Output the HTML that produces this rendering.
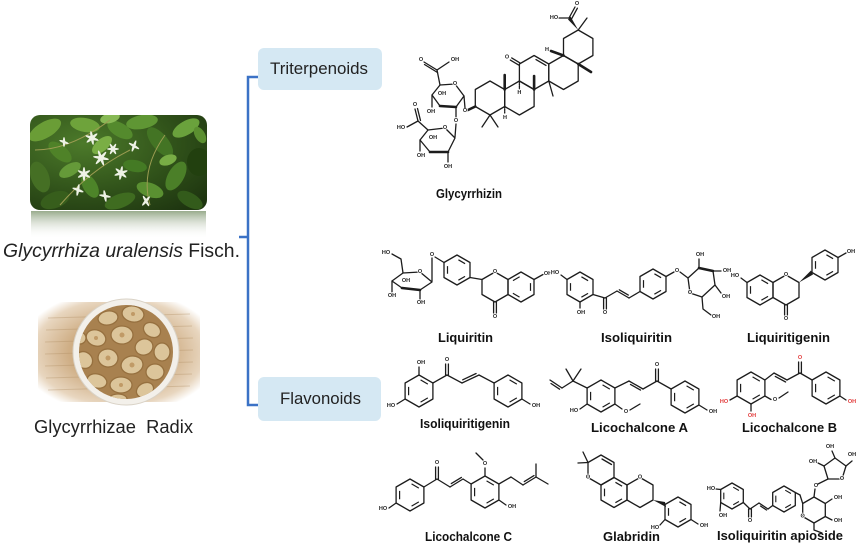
<!DOCTYPE html>
<html><head><meta charset="utf-8">
<style>
html,body{margin:0;padding:0;background:#fff;}
body{width:858px;height:548px;overflow:hidden;}
svg{display:block;}
.b{fill:none;stroke:#1c1c1c;stroke-width:1.3;stroke-linejoin:round;stroke-linecap:round}
.k{stroke:#1c1c1c;stroke-width:2.6;stroke-linecap:round}
.i15{fill:none;stroke:#1c1c1c;stroke-width:1.2;stroke-dasharray:7.7 14.3;stroke-dashoffset:-1.65}
.i16{fill:none;stroke:#1c1c1c;stroke-width:1.2;stroke-dasharray:8.4 15.6;stroke-dashoffset:-1.8}
.i13{fill:none;stroke:#1c1c1c;stroke-width:1.1;stroke-dasharray:6.6 12.4;stroke-dashoffset:-1.4}
.i15b{fill:none;stroke:#1c1c1c;stroke-width:1.2;stroke-dasharray:7.7 14.3;stroke-dashoffset:-12.65}
.a{font-family:"Liberation Sans",sans-serif;font-weight:bold;font-size:5.5px;fill:#222;stroke:#fff;stroke-width:1.6px;paint-order:stroke;text-anchor:middle;dominant-baseline:central}
.ar{fill:#e23a3a}
.lb{font-family:"Liberation Sans",sans-serif;font-weight:bold;font-size:12.5px;fill:#111}
.big{font-family:"Liberation Sans",sans-serif;fill:#222}
</style></head>
<body>
<svg width="858" height="548" viewBox="0 0 858 548" xmlns="http://www.w3.org/2000/svg">
<defs>
 <clipPath id="pc"><rect x="30" y="115" width="177" height="95" rx="10"/></clipPath>
 <clipPath id="bc"><circle cx="126" cy="352" r="47"/></clipPath>
 <linearGradient id="rf" x1="0" y1="0" x2="0" y2="1"><stop offset="0" stop-color="#7f9670" stop-opacity="0.8"/><stop offset="1" stop-color="#ffffff" stop-opacity="0"/></linearGradient>
 <radialGradient id="mat" cx="0.5" cy="0.5" r="0.62"><stop offset="0.5" stop-color="#cfae85"/><stop offset="0.85" stop-color="#e8d6bf"/><stop offset="1" stop-color="#ffffff"/></radialGradient>
 <radialGradient id="pl" cx="0.3" cy="0.3" r="0.9"><stop offset="0" stop-color="#4c7a2a"/><stop offset="0.6" stop-color="#2f5019"/><stop offset="1" stop-color="#1e3510"/></radialGradient>
</defs>

<!-- Plant photo -->
<g clip-path="url(#pc)">
 <rect x="30" y="115" width="177" height="95" fill="url(#pl)"/>
 <ellipse cx="45" cy="130" rx="18" ry="8" transform="rotate(-30 45 130)" fill="#6a9d36"/>
 <ellipse cx="60" cy="152" rx="14" ry="7" transform="rotate(40 60 152)" fill="#4f8228"/>
 <ellipse cx="40" cy="177" rx="16" ry="9" transform="rotate(70 40 177)" fill="#456f24"/>
 <ellipse cx="55" cy="200" rx="15" ry="8" transform="rotate(-20 55 200)" fill="#375e1c"/>
 <ellipse cx="85" cy="125" rx="15" ry="7" transform="rotate(10 85 125)" fill="#6ea33b"/>
 <ellipse cx="102" cy="145" rx="12" ry="6" transform="rotate(-40 102 145)" fill="#7aae45"/>
 <ellipse cx="120" cy="130" rx="14" ry="7" transform="rotate(30 120 130)" fill="#548a2d"/>
 <ellipse cx="142" cy="122" rx="16" ry="7" transform="rotate(-10 142 122)" fill="#5f9634"/>
 <ellipse cx="160" cy="142" rx="18" ry="8" transform="rotate(50 160 142)" fill="#437424"/>
 <ellipse cx="186" cy="128" rx="15" ry="7" transform="rotate(-30 186 128)" fill="#6aa23c"/>
 <ellipse cx="199" cy="162" rx="12" ry="14" fill="#22400f"/>
 <ellipse cx="176" cy="176" rx="16" ry="8" transform="rotate(-60 176 176)" fill="#4b7f28"/>
 <ellipse cx="150" cy="190" rx="14" ry="7" transform="rotate(20 150 190)" fill="#5a9031"/>
 <ellipse cx="120" cy="201" rx="16" ry="7" transform="rotate(-20 120 201)" fill="#3f6c20"/>
 <ellipse cx="90" cy="186" rx="13" ry="7" transform="rotate(60 90 186)" fill="#4d8429"/>
 <ellipse cx="70" cy="170" rx="12" ry="6" transform="rotate(-30 70 170)" fill="#659a39"/>
 <ellipse cx="190" cy="200" rx="14" ry="7" transform="rotate(30 190 200)" fill="#335b1b"/>
 <ellipse cx="135" cy="166" rx="12" ry="6" transform="rotate(10 135 166)" fill="#447a24"/>
 <ellipse cx="168" cy="160" rx="9" ry="5" transform="rotate(-20 168 160)" fill="#78ad45"/>
 <ellipse cx="110" cy="118" rx="10" ry="5" transform="rotate(-15 110 118)" fill="#87b955"/>
 <ellipse cx="200" cy="135" rx="9" ry="5" transform="rotate(60 200 135)" fill="#5b8f30"/>
 <path d="M60,205 Q90,170 130,150 M150,205 Q140,170 165,135 M35,150 Q70,150 110,120" stroke="#9c9c52" stroke-width="1" fill="none"/>
 <g fill="#eef2e6">
  <g transform="translate(92,138)"><ellipse rx="7" ry="1.4" transform="rotate(20)"/><ellipse rx="7" ry="1.4" transform="rotate(80)"/><ellipse rx="7" ry="1.4" transform="rotate(140)"/></g>
  <g transform="translate(101,158)"><ellipse rx="8" ry="1.5" transform="rotate(10)"/><ellipse rx="8" ry="1.5" transform="rotate(70)"/><ellipse rx="8" ry="1.5" transform="rotate(130)"/></g>
  <g transform="translate(84,174)"><ellipse rx="7" ry="1.4" transform="rotate(30)"/><ellipse rx="7" ry="1.4" transform="rotate(90)"/><ellipse rx="7" ry="1.4" transform="rotate(150)"/></g>
  <g transform="translate(113,149)"><ellipse rx="6" ry="1.3" transform="rotate(0)"/><ellipse rx="6" ry="1.3" transform="rotate(60)"/><ellipse rx="6" ry="1.3" transform="rotate(120)"/></g>
  <g transform="translate(78,190)"><ellipse rx="6" ry="1.3" transform="rotate(20)"/><ellipse rx="6" ry="1.3" transform="rotate(100)"/></g>
  <g transform="translate(121,173)"><ellipse rx="7" ry="1.4" transform="rotate(40)"/><ellipse rx="7" ry="1.4" transform="rotate(100)"/><ellipse rx="7" ry="1.4" transform="rotate(160)"/></g>
  <g transform="translate(105,196)"><ellipse rx="6" ry="1.3" transform="rotate(10)"/><ellipse rx="6" ry="1.3" transform="rotate(80)"/></g>
  <g transform="translate(134,146)"><ellipse rx="6" ry="1.3" transform="rotate(30)"/><ellipse rx="6" ry="1.3" transform="rotate(110)"/></g>
  <g transform="translate(146,201)"><ellipse rx="6" ry="1.3" transform="rotate(60)"/><ellipse rx="6" ry="1.3" transform="rotate(130)"/></g>
  <g transform="translate(64,142)"><ellipse rx="5" ry="1.2" transform="rotate(20)"/><ellipse rx="5" ry="1.2" transform="rotate(90)"/></g>
 </g>
</g>
<rect x="31" y="211" width="175" height="28" fill="url(#rf)"/>

<!-- Root photo -->
<rect x="38" y="302" width="162" height="100" fill="url(#mat)"/>
<g stroke="#b08d62" stroke-opacity="0.35" stroke-width="1">
 <line x1="48" y1="318" x2="190" y2="314"/><line x1="46" y1="330" x2="192" y2="326"/><line x1="45" y1="342" x2="193" y2="338"/>
 <line x1="45" y1="354" x2="193" y2="350"/><line x1="45" y1="366" x2="193" y2="362"/><line x1="46" y1="378" x2="192" y2="374"/><line x1="48" y1="390" x2="190" y2="386"/>
</g>
<circle cx="126" cy="352" r="53" fill="#f3f0ea" stroke="#d9d2c6" stroke-width="1"/>
<circle cx="126" cy="352" r="47" fill="#a8814f"/>
<g clip-path="url(#bc)" fill="#dcc59a" stroke="#96703f" stroke-width="1.3">
 <ellipse cx="108" cy="318" rx="10" ry="7" transform="rotate(-10 108 318)"/>
 <ellipse cx="133" cy="314" rx="11" ry="8" transform="rotate(10 133 314)"/>
 <ellipse cx="152" cy="330" rx="9" ry="7" transform="rotate(30 152 330)"/>
 <ellipse cx="96" cy="338" rx="10" ry="8" transform="rotate(20 96 338)"/>
 <ellipse cx="122" cy="335" rx="11" ry="9"/>
 <ellipse cx="144" cy="347" rx="9" ry="8" transform="rotate(-20 144 347)"/>
 <ellipse cx="162" cy="352" rx="8" ry="9"/>
 <ellipse cx="84" cy="360" rx="9" ry="8" transform="rotate(40 84 360)"/>
 <ellipse cx="108" cy="358" rx="10" ry="9" transform="rotate(10 108 358)"/>
 <ellipse cx="132" cy="365" rx="11" ry="9" transform="rotate(-10 132 365)"/>
 <ellipse cx="155" cy="372" rx="9" ry="8"/>
 <ellipse cx="97" cy="381" rx="10" ry="7" transform="rotate(15 97 381)"/>
 <ellipse cx="121" cy="385" rx="11" ry="8"/>
 <ellipse cx="145" cy="390" rx="9" ry="7" transform="rotate(-30 145 390)"/>
 <ellipse cx="80" cy="338" rx="6" ry="6"/>
 <ellipse cx="118" cy="399" rx="9" ry="5"/>
</g>
<g fill="#c09a66">
 <circle cx="122" cy="335" r="2.5"/><circle cx="108" cy="358" r="2.5"/><circle cx="132" cy="365" r="2.5"/><circle cx="133" cy="314" r="2"/><circle cx="96" cy="338" r="2"/><circle cx="121" cy="385" r="2"/>
</g>

<!-- Left texts -->
<text class="big" x="3" y="257" font-size="19.5" textLength="237" lengthAdjust="spacingAndGlyphs"><tspan font-style="italic">Glycyrrhiza uralensis</tspan> Fisch.</text>
<text class="big" x="34" y="433" font-size="18.5" textLength="159" lengthAdjust="spacingAndGlyphs" xml:space="preserve">Glycyrrhizae  Radix</text>

<!-- Bracket -->
<path d="M258,77 H248 V405 H258" fill="none" stroke="#3b72c6" stroke-width="2.5"/>
<line x1="239" y1="237" x2="248" y2="237" stroke="#3b72c6" stroke-width="2.5"/>

<!-- Category boxes -->
<rect x="258" y="48" width="124" height="42" rx="6" fill="#d5e8f3"/>
<text class="big" x="270" y="74" font-size="17" textLength="98" lengthAdjust="spacingAndGlyphs">Triterpenoids</text>
<rect x="258" y="377" width="123" height="44" rx="6" fill="#d5e8f3"/>
<text class="big" x="280" y="404" font-size="17" textLength="81" lengthAdjust="spacingAndGlyphs">Flavonoids</text>

<!-- ===== Glycyrrhizin ===== -->
<g>
 <polygon class="b" transform="translate(490,98)" points="0,-17 14.7,-8.5 14.7,8.5 0,17 -14.7,8.5 -14.7,-8.5"/>
 <polygon class="b" transform="translate(519.4,98)" points="0,-17 14.7,-8.5 14.7,8.5 0,17 -14.7,8.5 -14.7,-8.5"/>
 <polygon class="b" transform="translate(534.1,72.5)" points="0,-17 14.7,-8.5 14.7,8.5 0,17 -14.7,8.5 -14.7,-8.5"/>
 <polygon class="b" transform="translate(563.5,72.5)" points="0,-17 14.7,-8.5 14.7,8.5 0,17 -14.7,8.5 -14.7,-8.5"/>
 <polygon class="b" transform="translate(578.2,47)" points="0,-17 14.7,-8.5 14.7,8.5 0,17 -14.7,8.5 -14.7,-8.5"/>
 <line class="b" x1="520" y1="62.9" x2="511.7" y2="57.9"/><line class="b" x1="518.7" y1="65.1" x2="510.3" y2="60.1"/>
 <text class="a" x="507" y="57.5">O</text>
 <line class="b" x1="536" y1="59.6" x2="546" y2="65.4"/>
 <line class="k" x1="504.7" y1="89.5" x2="504.7" y2="75"/>
 <line class="k" x1="534.1" y1="89.5" x2="534.1" y2="76"/>
 <line class="k" x1="578.2" y1="64" x2="591" y2="72"/>
 <line class="b" x1="548.8" y1="81" x2="553" y2="96"/>
 <line class="k" x1="563.5" y1="55.5" x2="551" y2="51"/>
 <text class="a" x="547" y="50">H</text>
 <line class="b" x1="504.7" y1="106.5" x2="504.7" y2="113" stroke-dasharray="1.5 1"/>
 <text class="a" x="505" y="118">H</text>
 <line class="b" x1="519.4" y1="81" x2="519.4" y2="89" stroke-dasharray="1.5 1"/>
 <text class="a" x="519.4" y="93">H</text>
 <line class="b" x1="490" y1="115" x2="482" y2="127"/><line class="b" x1="490" y1="115" x2="498" y2="127"/>
 <polygon points="578.2,30 568,19.5 570.5,16.5" fill="#1c1c1c"/>
 <line class="b" x1="569" y1="18" x2="559" y2="18"/>
 <text class="a" x="554" y="18">HO</text>
 <line class="b" x1="569" y1="18" x2="575" y2="7"/><line class="b" x1="571.4" y1="19.2" x2="577.4" y2="8.2"/>
 <text class="a" x="577" y="4">O</text>
 <line class="b" x1="578.2" y1="30" x2="587" y2="18"/>
 <line class="k" x1="475.3" y1="106.5" x2="468" y2="110"/>
 <text class="a" x="465" y="111">O</text>
 <line class="b" x1="465" y1="108" x2="464" y2="96"/>
 <polygon class="b" points="432,95 440,85 455,84 464,96 456,107 440,106"/>
 <line class="k" x1="440" y1="106" x2="456" y2="107"/>
 <text class="a" x="455" y="84">O</text>
 <line class="b" x1="440" y1="85" x2="437" y2="70"/>
 <line class="b" x1="437" y1="70" x2="424" y2="62"/><line class="b" x1="437.5" y1="72.5" x2="424.5" y2="64.5"/>
 <text class="a" x="421" y="60">O</text>
 <line class="b" x1="437" y1="70" x2="449" y2="62"/>
 <text class="a" x="455" y="60">OH</text>
 <line class="b" x1="432" y1="95" x2="432" y2="107"/>
 <text class="a" x="431" y="112">OH</text>
 <text class="a" x="442" y="94">OH</text>
 <line class="b" x1="456" y1="107" x2="456" y2="117"/>
 <text class="a" x="456" y="121">O</text>
 <line class="b" x1="456" y1="124" x2="455" y2="137"/>
 <polygon class="b" points="420,140 428,130 445,128 455,138 448,152 430,152"/>
 <line class="k" x1="430" y1="152" x2="448" y2="152"/>
 <text class="a" x="445" y="128">O</text>
 <line class="b" x1="428" y1="130" x2="418" y2="121"/>
 <line class="b" x1="418" y1="121" x2="415" y2="109"/><line class="b" x1="420.5" y1="120.5" x2="417.5" y2="108.5"/>
 <text class="a" x="415" y="105">O</text>
 <line class="b" x1="418" y1="121" x2="407" y2="127"/>
 <text class="a" x="401" y="128">HO</text>
 <text class="a" x="433" y="138">OH</text>
 <line class="b" x1="420" y1="140" x2="420" y2="151"/>
 <text class="a" x="421" y="156">OH</text>
 <line class="b" x1="448" y1="152" x2="448" y2="162"/>
 <text class="a" x="448" y="167">OH</text>
</g>
<text class="lb" x="436" y="198" textLength="66" lengthAdjust="spacingAndGlyphs">Glycyrrhizin</text>

<!-- ===== Liquiritin ===== -->
<g>
 <polygon class="b" transform="translate(457,270)" points="0,-15 13,-7.5 13,7.5 0,15 -13,7.5 -13,-7.5"/>
 <polygon class="i15" transform="translate(457,270)" points="0,-11 9.5,-5.5 9.5,5.5 0,11 -9.5,5.5 -9.5,-5.5"/>
 <polygon class="b" transform="translate(495,287)" points="0,-15 13,-7.5 13,7.5 0,15 -13,7.5 -13,-7.5"/>
 <polygon class="b" transform="translate(521,287)" points="0,-15 13,-7.5 13,7.5 0,15 -13,7.5 -13,-7.5"/>
 <polygon class="i15b" transform="translate(521,287)" points="0,-11 9.5,-5.5 9.5,5.5 0,11 -9.5,5.5 -9.5,-5.5"/>
 <line class="b" x1="470" y1="277.5" x2="482" y2="279.5"/>
 <line class="b" x1="493.6" y1="302" x2="493.6" y2="313"/><line class="b" x1="496.4" y1="302" x2="496.4" y2="313"/>
 <text class="a" x="495" y="317">O</text>
 <text class="a" x="495" y="272">O</text>
 <line class="b" x1="534" y1="279.5" x2="543" y2="274.5"/>
 <text class="a" x="548" y="274">OH</text>
 <line class="b" x1="444" y1="262.5" x2="435" y2="257"/>
 <text class="a" x="432" y="255">O</text>
 <line class="b" x1="432" y1="258" x2="432" y2="281"/>
 <polygon class="b" points="392,281 403,273 420,272 432,282 420,290 402,288"/>
 <line class="k" x1="402" y1="288" x2="420" y2="290"/>
 <text class="a" x="420" y="272">O</text>
 <polyline class="b" points="403,273 401,259 392,254"/>
 <text class="a" x="386" y="253">HO</text>
 <line class="b" x1="392" y1="281" x2="392" y2="292"/>
 <text class="a" x="392" y="296">OH</text>
 <line class="b" x1="420" y1="290" x2="420" y2="299"/>
 <text class="a" x="421" y="303">OH</text>
 <text class="a" x="406" y="281">OH</text>
</g>
<text class="lb" x="438" y="342" textLength="55" lengthAdjust="spacingAndGlyphs">Liquiritin</text>

<!-- ===== Isoliquiritin ===== -->
<g>
 <polygon class="b" transform="translate(580,287)" points="0,-15 13,-7.5 13,7.5 0,15 -13,7.5 -13,-7.5"/>
 <polygon class="i15" transform="translate(580,287)" points="0,-11 9.5,-5.5 9.5,5.5 0,11 -9.5,5.5 -9.5,-5.5"/>
 <line class="b" x1="567" y1="279.5" x2="561" y2="275"/>
 <text class="a" x="555" y="273">HO</text>
 <line class="b" x1="580" y1="302" x2="580" y2="308"/>
 <text class="a" x="581" y="313">OH</text>
 <line class="b" x1="593" y1="294.5" x2="605" y2="298"/>
 <line class="b" x1="603.6" y1="298" x2="603.6" y2="309"/><line class="b" x1="606.4" y1="298" x2="606.4" y2="309"/>
 <text class="a" x="605" y="313">O</text>
 <line class="b" x1="605" y1="298" x2="617" y2="291"/>
 <line class="b" x1="617" y1="291" x2="629" y2="298"/><line class="b" x1="619.3" y1="289.8" x2="628.3" y2="295.1"/>
 <line class="b" x1="629" y1="298" x2="640" y2="291.5"/>
 <polygon class="b" transform="translate(653,284)" points="0,-15 13,-7.5 13,7.5 0,15 -13,7.5 -13,-7.5"/>
 <polygon class="i15" transform="translate(653,284)" points="0,-11 9.5,-5.5 9.5,5.5 0,11 -9.5,5.5 -9.5,-5.5"/>
 <line class="b" x1="666" y1="276.5" x2="674" y2="272"/>
 <text class="a" x="677" y="271">O</text>
 <line class="b" x1="680" y1="272" x2="688" y2="278"/>
 <polygon class="b" points="688,278 699,268 713,271 715,285 702,297 690,293"/>
 <line class="k" x1="699" y1="268" x2="713" y2="271"/>
 <text class="a" x="690" y="293">O</text>
 <line class="b" x1="699" y1="268" x2="699" y2="259"/>
 <text class="a" x="700" y="255">OH</text>
 <line class="b" x1="713" y1="271" x2="721" y2="271"/>
 <text class="a" x="727" y="271">OH</text>
 <line class="b" x1="715" y1="285" x2="721" y2="293"/>
 <text class="a" x="726" y="297">OH</text>
 <polyline class="b" points="702,297 703,309 711,315"/>
 <text class="a" x="716" y="317">OH</text>
</g>
<text class="lb" x="601" y="342" textLength="71" lengthAdjust="spacingAndGlyphs">Isoliquiritin</text>

<!-- ===== Liquiritigenin ===== -->
<g>
 <polygon class="b" transform="translate(760,290)" points="0,-15 13,-7.5 13,7.5 0,15 -13,7.5 -13,-7.5"/>
 <polygon class="i15" transform="translate(760,290)" points="0,-11 9.5,-5.5 9.5,5.5 0,11 -9.5,5.5 -9.5,-5.5"/>
 <line class="b" x1="747" y1="282.5" x2="741" y2="278"/>
 <text class="a" x="735" y="276">HO</text>
 <polygon class="b" transform="translate(786,290)" points="0,-15 13,-7.5 13,7.5 0,15 -13,7.5 -13,-7.5"/>
 <text class="a" x="786" y="275">O</text>
 <line class="b" x1="784.6" y1="305" x2="784.6" y2="315"/><line class="b" x1="787.4" y1="305" x2="787.4" y2="315"/>
 <text class="a" x="786" y="319">O</text>
 <polygon class="b" transform="translate(825,265)" points="0,-15 13,-7.5 13,7.5 0,15 -13,7.5 -13,-7.5"/>
 <polygon class="i15" transform="translate(825,265)" points="0,-11 9.5,-5.5 9.5,5.5 0,11 -9.5,5.5 -9.5,-5.5"/>
 <polygon points="799,282.5 813,274.5 811,270.5" fill="#1c1c1c"/>
 <line class="b" x1="838" y1="257.5" x2="846" y2="253"/>
 <text class="a" x="851" y="252">OH</text>
</g>
<text class="lb" x="747" y="342" textLength="83" lengthAdjust="spacingAndGlyphs">Liquiritigenin</text>

<!-- ===== Isoliquiritigenin ===== -->
<g>
 <polygon class="b" transform="translate(419,391)" points="0,-16 13.9,-8 13.9,8 0,16 -13.9,8 -13.9,-8"/>
 <polygon class="i16" transform="translate(419,391)" points="0,-12 10.4,-6 10.4,6 0,12 -10.4,6 -10.4,-6"/>
 <line class="b" x1="419" y1="375" x2="419" y2="367"/>
 <text class="a" x="421" y="363">OH</text>
 <line class="b" x1="405.1" y1="399" x2="397" y2="404"/>
 <text class="a" x="391" y="406">HO</text>
 <line class="b" x1="432.9" y1="383" x2="447" y2="375"/>
 <line class="b" x1="445.6" y1="375" x2="445.6" y2="364"/><line class="b" x1="448.4" y1="375" x2="448.4" y2="364"/>
 <text class="a" x="447" y="360">O</text>
 <line class="b" x1="447" y1="375" x2="462" y2="383"/>
 <line class="b" x1="462" y1="383" x2="479" y2="375"/><line class="b" x1="462.7" y1="379.8" x2="476.1" y2="373.5"/>
 <line class="b" x1="479" y1="375" x2="494.1" y2="383"/>
 <polygon class="b" transform="translate(508,391)" points="0,-16 13.9,-8 13.9,8 0,16 -13.9,8 -13.9,-8"/>
 <polygon class="i16" transform="translate(508,391)" points="0,-12 10.4,-6 10.4,6 0,12 -10.4,6 -10.4,-6"/>
 <line class="b" x1="521.9" y1="399" x2="530" y2="404"/>
 <text class="a" x="536" y="406">OH</text>
</g>
<text class="lb" x="420" y="428" textLength="90" lengthAdjust="spacingAndGlyphs">Isoliquiritigenin</text>

<!-- ===== Licochalcone A ===== -->
<g>
 <line class="b" x1="550" y1="380" x2="562" y2="388"/><line class="b" x1="551" y1="383.5" x2="559.6" y2="389.2"/>
 <line class="b" x1="562" y1="388" x2="573" y2="381"/>
 <line class="b" x1="573" y1="381" x2="566" y2="369"/>
 <line class="b" x1="573" y1="381" x2="581" y2="369"/>
 <line class="b" x1="573" y1="381" x2="587.1" y2="388"/>
 <polygon class="b" transform="translate(601,396)" points="0,-16 13.9,-8 13.9,8 0,16 -13.9,8 -13.9,-8"/>
 <polygon class="i16" transform="translate(601,396)" points="0,-12 10.4,-6 10.4,6 0,12 -10.4,6 -10.4,-6"/>
 <line class="b" x1="587.1" y1="404" x2="580" y2="409"/>
 <text class="a" x="574" y="411">HO</text>
 <line class="b" x1="614.9" y1="404" x2="622" y2="409"/>
 <text class="a" x="626" y="412">O</text>
 <line class="b" x1="630" y1="410" x2="640" y2="404"/>
 <line class="b" x1="614.9" y1="388" x2="629" y2="381"/>
 <line class="b" x1="629" y1="381" x2="643" y2="389"/><line class="b" x1="630.5" y1="384.4" x2="640.5" y2="390.1"/>
 <line class="b" x1="643" y1="389" x2="657" y2="381"/>
 <line class="b" x1="655.6" y1="381" x2="655.6" y2="369"/><line class="b" x1="658.4" y1="381" x2="658.4" y2="369"/>
 <text class="a" x="657" y="365">O</text>
 <line class="b" x1="657" y1="381" x2="671.1" y2="389"/>
 <polygon class="b" transform="translate(685,397)" points="0,-16 13.9,-8 13.9,8 0,16 -13.9,8 -13.9,-8"/>
 <polygon class="i16" transform="translate(685,397)" points="0,-12 10.4,-6 10.4,6 0,12 -10.4,6 -10.4,-6"/>
 <line class="b" x1="698.9" y1="405" x2="707" y2="410"/>
 <text class="a" x="713" y="412">OH</text>
</g>
<text class="lb" x="591" y="432" textLength="97" lengthAdjust="spacingAndGlyphs">Licochalcone A</text>

<!-- ===== Licochalcone B ===== -->
<g>
 <polygon class="b" transform="translate(751,388)" points="0,-16 13.9,-8 13.9,8 0,16 -13.9,8 -13.9,-8"/>
 <polygon class="i16" transform="translate(751,388)" points="0,-12 10.4,-6 10.4,6 0,12 -10.4,6 -10.4,-6"/>
 <line class="b" x1="737.1" y1="396" x2="730" y2="400"/>
 <text class="a ar" x="724" y="402">HO</text>
 <line class="b" x1="751" y1="404" x2="751" y2="411"/>
 <text class="a ar" x="752" y="416">OH</text>
 <line class="b" x1="764.9" y1="396" x2="771" y2="399.5"/>
 <text class="a" x="775" y="400">O</text>
 <line class="b" x1="779" y1="398" x2="788" y2="392"/>
 <line class="b" x1="764.9" y1="380" x2="774" y2="373"/>
 <line class="b" x1="774" y1="373" x2="787" y2="380"/><line class="b" x1="775.3" y1="376.4" x2="785.6" y2="382"/>
 <line class="b" x1="787" y1="380" x2="800" y2="373"/>
 <line class="b" x1="798.6" y1="373" x2="798.6" y2="362"/><line class="b" x1="801.4" y1="373" x2="801.4" y2="362"/>
 <text class="a ar" x="800" y="358">O</text>
 <line class="b" x1="800" y1="373" x2="812.1" y2="380"/>
 <polygon class="b" transform="translate(826,388)" points="0,-16 13.9,-8 13.9,8 0,16 -13.9,8 -13.9,-8"/>
 <polygon class="i16" transform="translate(826,388)" points="0,-12 10.4,-6 10.4,6 0,12 -10.4,6 -10.4,-6"/>
 <line class="b" x1="839.9" y1="396" x2="846" y2="400"/>
 <text class="a ar" x="852" y="402">OH</text>
</g>
<text class="lb" x="742" y="432" textLength="95" lengthAdjust="spacingAndGlyphs">Licochalcone B</text>

<!-- ===== Licochalcone C ===== -->
<g>
 <polygon class="b" transform="translate(410,495)" points="0,-16 13.9,-8 13.9,8 0,16 -13.9,8 -13.9,-8"/>
 <polygon class="i16" transform="translate(410,495)" points="0,-12 10.4,-6 10.4,6 0,12 -10.4,6 -10.4,-6"/>
 <line class="b" x1="396.1" y1="503" x2="389" y2="508"/>
 <text class="a" x="383" y="509">HO</text>
 <line class="b" x1="423.9" y1="487" x2="437" y2="479"/>
 <line class="b" x1="435.6" y1="479" x2="435.6" y2="467"/><line class="b" x1="438.4" y1="479" x2="438.4" y2="467"/>
 <text class="a" x="437" y="463">O</text>
 <line class="b" x1="437" y1="479" x2="450" y2="487"/>
 <line class="b" x1="450" y1="487" x2="463" y2="479"/><line class="b" x1="451.3" y1="483.6" x2="461.4" y2="477.4"/>
 <line class="b" x1="463" y1="479" x2="471.1" y2="484"/>
 <polygon class="b" transform="translate(485,492)" points="0,-16 13.9,-8 13.9,8 0,16 -13.9,8 -13.9,-8"/>
 <polygon class="i16" transform="translate(485,492)" points="0,-12 10.4,-6 10.4,6 0,12 -10.4,6 -10.4,-6"/>
 <line class="b" x1="485" y1="476" x2="485" y2="468"/>
 <text class="a" x="485" y="464">O</text>
 <line class="b" x1="483" y1="460" x2="476" y2="453"/>
 <line class="b" x1="498.9" y1="484" x2="511" y2="477"/>
 <line class="b" x1="511" y1="477" x2="523" y2="485"/>
 <line class="b" x1="523" y1="485" x2="536" y2="477"/><line class="b" x1="524.3" y1="481.6" x2="534" y2="475.6"/>
 <line class="b" x1="536" y1="477" x2="536" y2="464"/>
 <line class="b" x1="536" y1="477" x2="548" y2="484"/>
 <line class="b" x1="498.9" y1="500" x2="506" y2="505"/>
 <text class="a" x="512" y="507">OH</text>
</g>
<text class="lb" x="425" y="541" textLength="87" lengthAdjust="spacingAndGlyphs">Licochalcone C</text>

<!-- ===== Glabridin ===== -->
<g>
 <polygon class="b" transform="translate(601,470)" points="0,-15 13,-7.5 13,7.5 0,15 -13,7.5 -13,-7.5"/>
 <line class="b" x1="602" y1="459" x2="611.5" y2="464.5"/>
 <text class="a" x="588" y="477.5">O</text>
 <line class="b" x1="588" y1="462.5" x2="578" y2="463"/>
 <line class="b" x1="588" y1="462.5" x2="583" y2="452"/>
 <polygon class="b" transform="translate(614,492.5)" points="0,-15 13,-7.5 13,7.5 0,15 -13,7.5 -13,-7.5"/>
 <polygon class="i15" transform="translate(614,492.5)" points="0,-11 9.5,-5.5 9.5,5.5 0,11 -9.5,5.5 -9.5,-5.5"/>
 <polygon class="b" transform="translate(640,492.5)" points="0,-15 13,-7.5 13,7.5 0,15 -13,7.5 -13,-7.5"/>
 <text class="a" x="640" y="477.5">O</text>
 <polygon points="653,500 666,507 665,502" fill="#1c1c1c"/>
 <polygon class="b" transform="translate(678,512)" points="0,-15 13,-7.5 13,7.5 0,15 -13,7.5 -13,-7.5"/>
 <polygon class="i15" transform="translate(678,512)" points="0,-11 9.5,-5.5 9.5,5.5 0,11 -9.5,5.5 -9.5,-5.5"/>
 <line class="b" x1="665" y1="519.5" x2="660" y2="525"/>
 <text class="a" x="655" y="528">HO</text>
 <line class="b" x1="691" y1="519.5" x2="698" y2="524"/>
 <text class="a" x="704" y="526">OH</text>
</g>
<text class="lb" x="603" y="541" textLength="57" lengthAdjust="spacingAndGlyphs">Glabridin</text>

<!-- ===== Isoliquiritin apioside ===== -->
<g>
 <polygon class="b" transform="translate(732,496)" points="0,-13 11.3,-6.5 11.3,6.5 0,13 -11.3,6.5 -11.3,-6.5"/>
 <polygon class="i13" transform="translate(732,496)" points="0,-9.5 8.2,-4.75 8.2,4.75 0,9.5 -8.2,4.75 -8.2,-4.75"/>
 <line class="b" x1="720.7" y1="489.5" x2="716" y2="489"/>
 <text class="a" x="711" y="489">HO</text>
 <line class="b" x1="720.7" y1="502.5" x2="720" y2="511"/>
 <text class="a" x="723" y="516">OH</text>
 <line class="b" x1="743.3" y1="502.5" x2="750" y2="509"/>
 <line class="b" x1="748.6" y1="509" x2="748.6" y2="517"/><line class="b" x1="751.4" y1="509" x2="751.4" y2="517"/>
 <text class="a" x="750" y="521">O</text>
 <line class="b" x1="750" y1="509" x2="759" y2="503"/>
 <line class="b" x1="759" y1="503" x2="768" y2="509"/><line class="b" x1="760.5" y1="506" x2="766.5" y2="510"/>
 <line class="b" x1="768" y1="509" x2="772.7" y2="505.5"/>
 <polygon class="b" transform="translate(784,499)" points="0,-13 11.3,-6.5 11.3,6.5 0,13 -11.3,6.5 -11.3,-6.5"/>
 <polygon class="i13" transform="translate(784,499)" points="0,-9.5 8.2,-4.75 8.2,4.75 0,9.5 -8.2,4.75 -8.2,-4.75"/>
 <line class="b" x1="795.3" y1="492.5" x2="800" y2="495"/>
 <line class="b" x1="800" y1="495" x2="802.7" y2="503.5"/>
 <polygon class="b" transform="translate(814,510)" points="0,-13 11.3,-6.5 11.3,6.5 0,13 -11.3,6.5 -11.3,-6.5"/>
 <text class="a" x="802.7" y="516.5">O</text>
 <line class="b" x1="825.3" y1="503.5" x2="832" y2="499"/>
 <text class="a" x="838" y="498">OH</text>
 <line class="b" x1="825.3" y1="516.5" x2="832" y2="520"/>
 <text class="a" x="838" y="521">OH</text>
 <polyline class="b" points="814,523 814,530 822,533"/>
 <line class="b" x1="814" y1="497" x2="815" y2="489"/>
 <text class="a" x="816" y="486">O</text>
 <line class="b" x1="818" y1="484" x2="828" y2="479"/>
 <polygon class="b" points="828,479 824,466 835,458 846,466 842,479"/>
 <text class="a" x="842" y="479">O</text>
 <line class="b" x1="824" y1="466" x2="818" y2="463"/>
 <text class="a" x="813" y="462">OH</text>
 <line class="b" x1="835" y1="458" x2="832" y2="451"/>
 <text class="a" x="830" y="447">OH</text>
 <line class="b" x1="846" y1="466" x2="852" y2="461"/>
 <text class="a" x="852" y="455">OH</text>
</g>
<text class="lb" x="717" y="540" textLength="126" lengthAdjust="spacingAndGlyphs">Isoliquiritin apioside</text>
</svg>
</body></html>
